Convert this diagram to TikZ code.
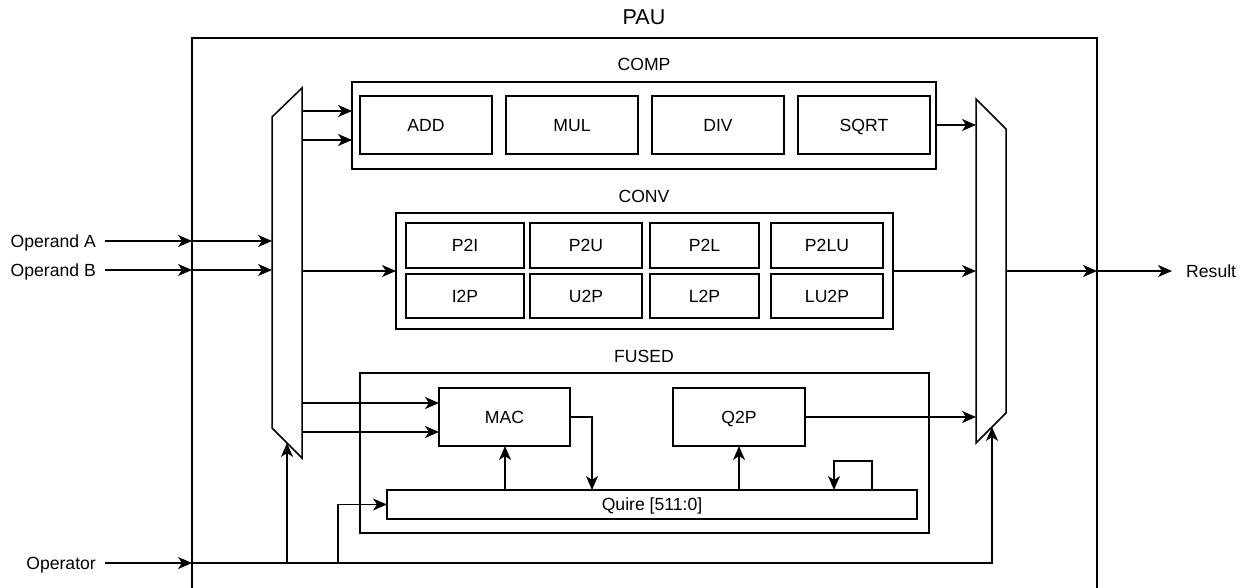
\documentclass[tikz,border=0pt]{standalone}
\usepackage{fontspec}
\setmainfont{Liberation Sans}
\usetikzlibrary{arrows.meta}
\begin{document}
\begin{tikzpicture}[x=1pt,y=-1pt,
  every node/.style={font=\fontsize{17.6}{20}\selectfont},
  box/.style={draw, line width=1.5pt, inner sep=0pt, outer sep=0pt, anchor=north west, text height=12.6pt, text depth=0pt},
  wire/.style={line width=1.5pt},
  arr/.style={wire, -{Stealth[length=14pt,width=12pt,inset=4pt]}},
  lbl/.style={inner sep=0pt, text height=12.6pt, text depth=0pt}]
\clip (0,0) rectangle (1241,588);
% outer
\node[box, line width=2.8pt, minimum width=905, minimum height=600] (pau) at (192,38) {};
\node[lbl, font=\fontsize{21.5}{24}\selectfont, text height=15.4pt] (pautitle) at (644,17) {PAU};
% COMP
\node[box, minimum width=584, minimum height=87] (comp) at (352,82) {};
\node[lbl] (comptitle) at (644,64) {COMP};
\node[box, minimum width=132, minimum height=58] (add) at (360,96) {ADD};
\node[box, minimum width=132, minimum height=58] (mul) at (506,96) {MUL};
\node[box, minimum width=132, minimum height=58] (div) at (652,96) {DIV};
\node[box, minimum width=132, minimum height=58] (sqrt) at (798,96) {SQRT};
% CONV
\node[box, minimum width=497, minimum height=116] (conv) at (396,213) {};
\node[lbl] (convtitle) at (644,196) {CONV};
\node[box, minimum width=118, minimum height=45] (p2i) at (406,223) {P2I};
\node[box, minimum width=112, minimum height=45] (p2u) at (530,223) {P2U};
\node[box, minimum width=109, minimum height=45] (p2l) at (650,223) {P2L};
\node[box, minimum width=112, minimum height=45] (p2lu) at (771,223) {P2LU};
\node[box, minimum width=118, minimum height=44] (i2p) at (406,274) {I2P};
\node[box, minimum width=112, minimum height=44] (u2p) at (530,274) {U2P};
\node[box, minimum width=109, minimum height=44] (l2p) at (650,274) {L2P};
\node[box, minimum width=112, minimum height=44] (lu2p) at (771,274) {LU2P};
% FUSED
\node[box, minimum width=569, minimum height=160] (fused) at (360,373) {};
\node[lbl] (fusedtitle) at (644,356) {FUSED};
\node[box, minimum width=131, minimum height=58] (mac) at (439,388) {MAC};
\node[box, minimum width=132, minimum height=58] (q2p) at (673,388) {Q2P};
\node[box, minimum width=530, minimum height=29] (quire) at (387,490) {Quire [511:0]};
% muxes
\draw[wire, line join=miter] (272,117) -- (302,88) -- (302,458) -- (272,428) -- cycle;
\draw[wire, line join=miter] (976,99) -- (1006,129) -- (1006,413) -- (976,443) -- cycle;
\coordinate (lmo) at (302,271);
\coordinate (rmi) at (976,271);
\coordinate (rmo) at (1006,271);
% labels
\node[lbl, anchor=east] (opa) at (96,241) {Operand A};
\node[lbl, anchor=east] (opb) at (96,270) {Operand B};
\node[lbl, anchor=east] (opr) at (96,563) {Operator};
\node[lbl, anchor=west] (res) at (1186,271) {Result};
\coordinate (opaS) at (105,241);
\coordinate (opbS) at (105,270);
\coordinate (oprS) at (105,563);
\coordinate (resE) at (1172,271);
% inputs
\draw[arr] (opaS) -- (pau.west |- opaS);
\draw[arr] (pau.west |- opaS) -- (272,241);
\draw[arr] (opbS) -- (pau.west |- opbS);
\draw[arr] (pau.west |- opbS) -- (272,270);
% left mux outputs
\draw[arr] (302,111) -- (comp.west |- 302,111);
\draw[arr] (302,140) -- (comp.west |- 302,140);
\draw[arr] (lmo) -- (conv.west |- lmo);
\draw[arr] (302,403) -- (mac.west |- 302,403);
\draw[arr] (302,432) -- (mac.west |- 302,432);
% into right mux
\draw[arr] (comp.east |- sqrt.east) -- (976,125);
\draw[arr] (conv.east |- rmi) -- (rmi);
\draw[arr] (q2p.east) -- (976,417);
% output
\draw[arr] (rmo) -- (pau.east |- rmo);
\draw[arr] (pau.east |- rmo) -- (resE);
% fused internals
\draw[arr] (mac.east) -| (592,490);
\draw[arr] (505,490) -- (505,446);
\draw[arr] (739,490) -- (739,446);
\draw[arr] (872,490) -- (872,461) -- (834,461) -- (834,490);
% operator
\draw[arr] (oprS) -- (pau.west |- oprS);
\draw[arr] (pau.west |- oprS) -- (992,563) -- (992,427);
\draw[arr] (287,563) -- (287,443);
\draw[arr] (338,563) |- (quire.west);
\end{tikzpicture}
\end{document}
